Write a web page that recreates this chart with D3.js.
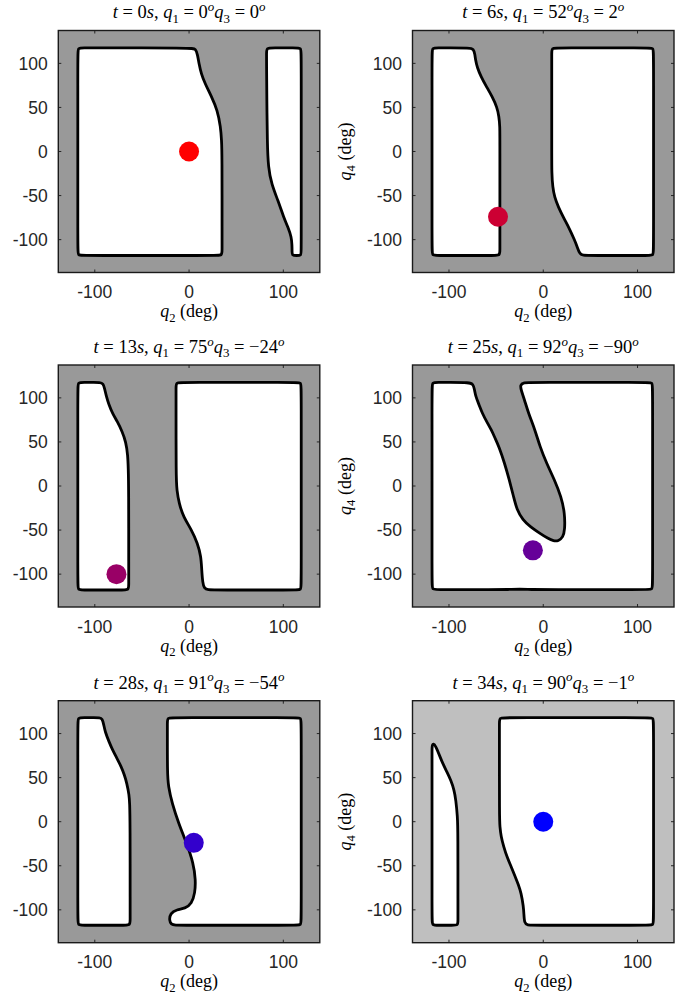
<!DOCTYPE html>
<html><head><meta charset="utf-8">
<script src="https://cdn.jsdelivr.net/npm/d3@7"></script>
<style>html,body{margin:0;padding:0;background:#fff;}svg{display:block;}</style>
</head><body><svg id="c" width="694" height="1003"></svg>
<script>
// ---- data ----
const times = [0, 6, 13, 25, 28, 34];
const q1Vals = [0, 52, 75, 92, 91, 90];
const q3Vals = [0, 2, -24, -90, -54, -1];
const dotQ2 = [0, -48, -77, -11, 5, 0];
const dotQ4 = [0, -74, -100, -73, -24, 0];
const xTicks = [-100, 0, 100];
const yTicks = [-100, -50, 0, 50, 100];

// free-space boundaries (spline control points), [q2, q4] in degrees
const shapes0 = [
  [[-118,111.5],[-118,117.5],[-112,117.5],[-100,117.5],[3,117.5],[7,116.5],[9,110],[10.5,100],[13,88],[17,77],[24,62],[30,47],[33.5,28],[34.5,12],[35,0],[35,-100],[35,-112],[35,-118],[29,-118],[-112,-118],[-118,-118],[-118,-112]],
  [[82.2,111.5],[82.2,117.5],[88.2,117.5],[113,117.5],[119,117.5],[119,111.5],[119,-114],[119,-118],[114.2,-118],[109.3,-118],[109.3,-114],[109.2,-106],[108.6,-97],[105,-86],[100.5,-75],[94.5,-56],[87.5,-37],[84,-18],[83,10],[82.5,60],[82.2,100]]
];
const shapes1 = [
  [[-118,111.5],[-118,117.5],[-112,117.5],[-100,117.5],[-78,117.5],[-74,116.5],[-72.5,110],[-72,105],[-70,95],[-66,85],[-61,75],[-54,62],[-49,50],[-47,40],[-46,28],[-46,15],[-46,-100],[-46,-112],[-46,-118],[-52,-118],[-112,-118],[-118,-118],[-118,-112]],
  [[9,111.5],[9,117.5],[15,117.5],[111,117.5],[117,117.5],[117,111.5],[117,-112],[117,-118],[111,-118],[50,-118],[42,-118],[38.5,-116],[36,-108],[33,-100],[28,-88],[22,-76],[16,-63],[12,-52],[10,-40],[9,-25],[9,0],[9,100]]
];
const shapes2 = [
  [[-118,111.5],[-118,117.5],[-112,117.5],[-100,117.5],[-95,117.5],[-91,116.5],[-89.5,110],[-88,103],[-85,92],[-81,82],[-76,73],[-71,62],[-67,50],[-65,35],[-64.5,20],[-64,0],[-64,-100],[-64,-112],[-64,-118],[-70,-118],[-112,-118],[-118,-118],[-118,-112]],
  [[-13.8,111.5],[-13.8,117.5],[-7.8,117.5],[113,117.5],[119,117.5],[119,111.5],[119,-112],[119,-118],[113,-118],[28,-118],[20,-118],[16,-116],[14.5,-110],[13.4,-95],[12.7,-80],[9,-65],[2.8,-50],[-6,-35],[-10.6,-19.7],[-13,-4.5],[-13.8,10],[-13.8,100]]
];
const shapes3 = [
  [[-118,111.5],[-118,117.5],[-112,117.5],[-100,117.5],[-78,117.5],[-74.5,115.5],[-73,110],[-71.7,101.5],[-68,92],[-64.7,82.6],[-60,73],[-55,63.6],[-51,54],[-47,44.7],[-41,25.8],[-36,6.8],[-31.5,-12],[-28,-27],[-21.7,-38.6],[-14,-46],[-3.5,-53.8],[5,-59.5],[11,-62.5],[16,-62.5],[21,-58],[22.9,-50],[22.9,-31],[19,-12],[12,6.8],[3.5,25.8],[-3.5,44.7],[-8.7,63.6],[-15.7,82.6],[-20,98],[-23.5,109],[-24.5,114.5],[-21,117.5],[-12,117.5],[110,117.5],[116,117.5],[116,111.5],[116,-111.5],[116,-117.5],[110,-117.5],[0,-117.5],[-12,-117.5],[-25,-117],[-38,-117.5],[-50,-117.5],[-112,-117.5],[-118,-117.5],[-118,-111.5]]
];
const shapes4 = [
  [[-118,112],[-118,118],[-112,118],[-100,118],[-95,118],[-92,117],[-90.5,110],[-89,102],[-85,91],[-81,81],[-76.5,72],[-72,62.5],[-68.5,53],[-66,43.6],[-63.5,30],[-63,20.8],[-62.5,0],[-62.5,-100],[-62.5,-111.5],[-62.5,-117.5],[-68.5,-117.5],[-112,-117.5],[-118,-117.5],[-118,-111.5]],
  [[-23,112],[-23,118],[-17,118],[113,118],[119,118],[119,112],[119,-111.5],[119,-117.5],[113,-117.5],[-5,-117.5],[-15,-117.5],[-19,-116.5],[-21,-112],[-20,-104],[-13,-99.6],[-4.2,-98.5],[2.8,-93],[6.3,-81],[7,-66],[4.6,-47],[-2.5,-24.6],[-11,-2],[-18,20.8],[-22,40],[-23,55],[-23,100]]
];
const shapes5 = [
  [[-116.5,89],[-114,85.5],[-110,75],[-106.6,66],[-102,56],[-98,47],[-94.5,36],[-92.7,24.6],[-91,5.7],[-90.5,-10],[-90.5,-100],[-90.5,-112.5],[-90.5,-117.5],[-95.5,-117.5],[-112,-117.5],[-118,-117.5],[-118,-111.5],[-118,70],[-118,80],[-118,86]],
  [[-46.5,112],[-46.5,118],[-40.5,118],[111,118],[117,118],[117,112],[117,-111.5],[117,-117.5],[111,-117.5],[-10,-117.5],[-17,-117.5],[-20,-115],[-20.5,-105],[-21,-96.6],[-23.4,-81],[-26.5,-71],[-29.7,-62.5],[-34,-51],[-38.5,-40],[-42,-28],[-44.8,-17],[-46,-5],[-46.5,2],[-46.5,100]]
];
const allShapes = [shapes0, shapes1, shapes2, shapes3, shapes4, shapes5];

// ---- layout ----
const svg = d3.select("#c");
const colX = [58.3, 412.5];
const rowY = [30.5, 365, 700.7];
const W = 261.5, H = 242;
const dotColor = d3.interpolateRgb("rgb(255,0,0)", "rgb(0,0,255)");
const serif = "'Liberation Serif', 'DejaVu Serif', serif";
const sans = "'Liberation Sans', Arial, sans-serif";

function fmt(v){ return v < 0 ? "\u2212" + Math.abs(v) : String(v); }

function mathText(sel, parts, size){
  let cur = 0;
  parts.forEach(([t, it, sh]) => {
    const target = sh === 0 ? 0 : (sh < 0 ? size*0.25 : -size*0.38);
    const ts = sel.append("tspan").text(t)
      .attr("font-style", it ? "italic" : "normal")
      .attr("font-size", sh === 0 ? size : size*0.7);
    if (target !== cur) { ts.attr("dy", target - cur); cur = target; }
  });
}

times.forEach((t, i) => {
  const c = i % 2, r = Math.floor(i / 2);
  const x0 = colX[c], y0 = rowY[r];
  const x = d3.scaleLinear().domain([-138.7, 138.7]).range([x0, x0 + W]);
  const y = d3.scaleLinear().domain([-137.3, 137.3]).range([y0 + H, y0]);
  const g = svg.append("g");

  g.append("rect").attr("x", x0).attr("y", y0).attr("width", W).attr("height", H)
    .attr("fill", i === 5 ? "#bfbfbf" : "#999999");

  const line = d3.line().x(d => x(d[0])).y(d => y(d[1])).curve(d3.curveBasisClosed);
  g.selectAll("path.shape").data(allShapes[i]).join("path").attr("class", "shape")
    .attr("d", line).attr("fill", "#fff").attr("stroke", "#000")
    .attr("stroke-width", 2.8).attr("stroke-linejoin", "round");

  g.append("circle").attr("cx", x(dotQ2[i])).attr("cy", y(dotQ4[i])).attr("r", 10)
    .attr("fill", dotColor(i / 5));

  const tl = 3;
  xTicks.forEach(v => {
    g.append("line").attr("x1", x(v)).attr("x2", x(v)).attr("y1", y0 + H).attr("y2", y0 + H - tl).attr("stroke", "#262626");
    g.append("line").attr("x1", x(v)).attr("x2", x(v)).attr("y1", y0).attr("y2", y0 + tl).attr("stroke", "#262626");
    g.append("text").attr("x", x(v)).attr("y", y0 + H + 25.5).attr("text-anchor", "middle")
      .attr("font-family", sans).attr("font-size", 17.5).attr("fill", "#262626").text(v);
  });
  yTicks.forEach(v => {
    g.append("line").attr("x1", x0).attr("x2", x0 + tl).attr("y1", y(v)).attr("y2", y(v)).attr("stroke", "#262626");
    g.append("line").attr("x1", x0 + W).attr("x2", x0 + W - tl).attr("y1", y(v)).attr("y2", y(v)).attr("stroke", "#262626");
    g.append("text").attr("x", x0 - 10.5).attr("y", y(v)).attr("dy", "0.36em").attr("text-anchor", "end")
      .attr("font-family", sans).attr("font-size", 17.5).attr("fill", "#262626").text(v);
  });

  g.append("rect").attr("x", x0).attr("y", y0).attr("width", W).attr("height", H)
    .attr("fill", "none").attr("stroke", "#1a1a1a").attr("stroke-width", 1.4);

  const tt = g.append("text").attr("x", x0 + W / 2).attr("y", y0 - 12.2).attr("text-anchor", "middle")
    .attr("font-family", serif).attr("font-size", 18.5).attr("fill", "#000");
  mathText(tt, [
    ["t", true, 0], [" = " + t, false, 0], ["s", true, 0], [", ", false, 0],
    ["q", true, 0], ["1", false, -1], [" = " + fmt(q1Vals[i]), false, 0], ["o", true, 1],
    ["q", true, 0], ["3", false, -1], [" = " + fmt(q3Vals[i]), false, 0], ["o", true, 1]
  ], 18.5);

  const xl = g.append("text").attr("x", x0 + W / 2).attr("y", y0 + H + 44.5).attr("text-anchor", "middle")
    .attr("font-family", serif).attr("font-size", 18).attr("fill", "#000");
  mathText(xl, [["q", true, 0], ["2", false, -1], [" (deg)", false, 0]], 18);

  if (c === 1) {
    const yl = g.append("text").attr("transform", `translate(${x0 - 62},${y0 + H / 2}) rotate(-90)`)
      .attr("text-anchor", "middle").attr("font-family", serif).attr("font-size", 18).attr("fill", "#000");
    mathText(yl, [["q", true, 0], ["4", false, -1], [" (deg)", false, 0]], 18);
  }
});
</script></body></html>
